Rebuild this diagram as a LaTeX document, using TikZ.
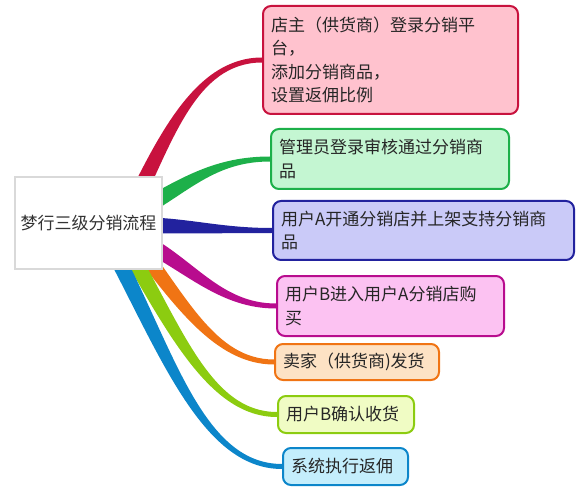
\documentclass[tikz,border=0pt]{standalone}
\usepackage{fontspec}
\setmainfont{Noto Sans CJK SC}
\usetikzlibrary{calc,backgrounds}

\definecolor{shopline}{HTML}{C8123E}
\definecolor{shopfill}{HTML}{FFC2CE}
\definecolor{adminline}{HTML}{1DB04A}
\definecolor{adminfill}{HTML}{C4F6D2}
\definecolor{openline}{HTML}{22229E}
\definecolor{openfill}{HTML}{CACAF8}
\definecolor{buyline}{HTML}{B80C8E}
\definecolor{buyfill}{HTML}{FCC2F2}
\definecolor{sendline}{HTML}{F07414}
\definecolor{sendfill}{HTML}{FDE2C4}
\definecolor{takeline}{HTML}{8CCC10}
\definecolor{takefill}{HTML}{F0FCC4}
\definecolor{payline}{HTML}{0C86CA}
\definecolor{payfill}{HTML}{C4EEFC}

% tapered branch: colour, start, first control, pull-in, target node
\newcommand\branch[5]{%
	\coordinate (p0) at #2;
	\coordinate (p1) at #3;
	\coordinate (p3) at (#5.west);
	\coordinate (p2) at ($(p3)+(-#4,0)$);
	\coordinate (a0) at ($(p0)!8pt!90:(p1)$);
	\coordinate (b0) at ($(p0)!8pt!-90:(p1)$);
	\coordinate (a3) at ($(p3)!2.5pt!-90:(p2)$);
	\coordinate (b3) at ($(p3)!2.5pt!90:(p2)$);
	\fill[#1] (a0) .. controls ($(p1)+(a0)-(p0)$) and ($(p2)+(a3)-(p3)$) .. (a3)
		-- (b3) .. controls ($(p2)+(b3)-(p3)$) and ($(p1)+(b0)-(p0)$) .. (b0) -- cycle;
}

\begin{document}
\begin{tikzpicture}[x=1pt,y=-1pt,
	font=\fontsize{17}{23.5}\selectfont,
	leaf/.style 2 args={draw=#1,fill=#2,line width=2pt,rounded corners=8pt,
		anchor=north west,align=left,inner xsep=8pt,inner ysep=0pt,text=black!85}]
	\useasboundingbox (0,0) rectangle (579,500);

	\node[draw=black!15,line width=1.5pt,fill=white,minimum width=147pt,minimum height=92pt,
		text=black!80] (root) at (88.5,223) {梦行三级分销流程};

	\node[leaf={shopline}{shopfill},text width=239pt,minimum height=108pt] (shop) at (262,5)
		{店主（供货商）登录分销平\\台，\\添加分销商品，\\设置返佣比例};
	\node[leaf={adminline}{adminfill},text width=222pt,minimum height=60pt] (admin) at (270,128)
		{管理员登录审核通过分销商\\品};
	\node[leaf={openline}{openfill},text width=285pt,minimum height=59pt] (open) at (272,200)
		{用户A开通分销店并上架支持分销商\\品};
	\node[leaf={buyline}{buyfill},text width=211pt,minimum height=60pt] (buy) at (276,275)
		{用户B进入用户A分销店购\\买};
	\node[leaf={sendline}{sendfill},text width=148pt,minimum height=36pt] (send) at (274,343)
		{卖家（供货商)发货};
	\node[leaf={takeline}{takefill},text width=120pt,minimum height=37pt] (take) at (277,395)
		{用户B确认收货};
	\node[leaf={payline}{payfill},text width=109pt,minimum height=37pt] (pay) at (282,447)
		{系统执行返佣};

	\begin{pgfonlayer}{background}
		\branch{shopline}{(128,215)}{(165,140)}{67}{shop}
		\branch{adminline}{(140,210)}{(185,185)}{55}{admin}
		\branch{openline}{(140,225)}{(190,226)}{52}{open}
		\branch{buyline}{(140,240)}{(190,265)}{56}{buy}
		\branch{sendline}{(130,235)}{(180,300)}{59}{send}
		\branch{takeline}{(120,235)}{(175,330)}{67}{take}
		\branch{payline}{(105,235)}{(165,345)}{82}{pay}
	\end{pgfonlayer}
\end{tikzpicture}
\end{document}
